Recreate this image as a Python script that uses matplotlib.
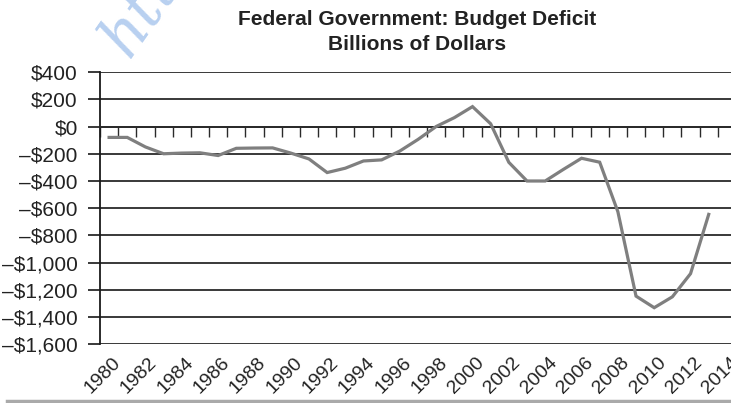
import matplotlib.pyplot as plt
import numpy as np
from matplotlib.lines import Line2D
from matplotlib.transforms import ScaledTranslation

# federal budget balance, billions of dollars
years = list(range(1980, 2014))
deficit = [-80, -80, -150, -200, -195, -193, -213, -160, -158, -157,
           -195, -238, -338, -306, -253, -245, -180, -95, 0, 65,
           146, 20, -263, -400, -400, -315, -233, -262, -625, -1245,
           -1330, -1250, -1080, -645]

year_labels = [str(y) for y in range(1980, 2015, 2)]
y_ticks = list(range(400, -1601, -200))
y_labels = ['$400', '$200', '$0', '\u2013$200', '\u2013$400', '\u2013$600', '\u2013$800',
            '\u2013$1,000', '\u2013$1,200', '\u2013$1,400', '\u2013$1,600']

plt.rcParams['font.family'] = ['Liberation Sans', 'DejaVu Sans']

fig = plt.figure(figsize=(7.31, 4.03), dpi=100)
ax = fig.add_axes([0.1368, 0.1452, 0.870, 0.6761])

# one category slot per year, 1980..2014
n_cat = len(years) + 1
x = np.arange(len(years)) + 0.5
ax.plot(x, deficit, color='#7f7f7f', lw=2.3, solid_joinstyle='miter', zorder=3)

ax.set_xlim(0, n_cat)
ax.set_ylim(-1600, 400)
ax.set_yticks(y_ticks)
ax.set_yticklabels(y_labels, fontsize=15, color='#222222')
ax.tick_params(axis='y', length=9, width=1.3, color='#2a2a2a', pad=7)
ax.yaxis.grid(True, color='#2a2a2a', lw=1.3)
ax.set_axisbelow(True)

for s in ['top', 'right']:
    ax.spines[s].set_visible(False)
ax.spines['left'].set_color('#1a1a1a')
ax.spines['left'].set_linewidth(1.3)
ax.spines['bottom'].set_position(('data', 0))
ax.spines['bottom'].set_color('#2a2a2a')
ax.spines['bottom'].set_linewidth(1.3)

# tick marks between years on the zero line
ax.set_xticks(np.arange(0, n_cat + 1))
ax.tick_params(axis='x', direction='out', length=7, width=1, color='#2a2a2a',
               labelbottom=False)

# year labels along the bottom
sec = ax.secondary_xaxis(location=0.0)
sec.set_xticks(np.arange(0, n_cat, 2) + 0.5)
sec.set_xticklabels(year_labels, rotation=45, ha='right', rotation_mode='anchor',
                    fontsize=14, color='#222222')
sec.tick_params(length=0, pad=7)
sec.spines['bottom'].set_visible(False)
shift = ScaledTranslation(3 / 100, 0, fig.dpi_scale_trans)
for lab in sec.get_xticklabels():
    lab.set_transform(lab.get_transform() + shift)

fig.text(417 / 731, 1 - 25 / 403, 'Federal Government: Budget Deficit',
         ha='center', va='baseline', fontsize=15, fontweight='bold', color='#222222')
fig.text(417 / 731, 1 - 50 / 403, 'Billions of Dollars',
         ha='center', va='baseline', fontsize=15, fontweight='bold', color='#222222')

fig.text(128 / 731, 1 - 60 / 403, 'http', rotation=55, rotation_mode='anchor',
         ha='left', va='baseline', fontsize=44, family='DejaVu Serif',
         style='italic', color='#b8d0f0', zorder=0)

fig.add_artist(Line2D([7 / 731, 1], [1 - 401 / 403] * 2, transform=fig.transFigure,
                      color='#aaaaaa', lw=2.5))

fig.savefig('out.png', dpi=100)
